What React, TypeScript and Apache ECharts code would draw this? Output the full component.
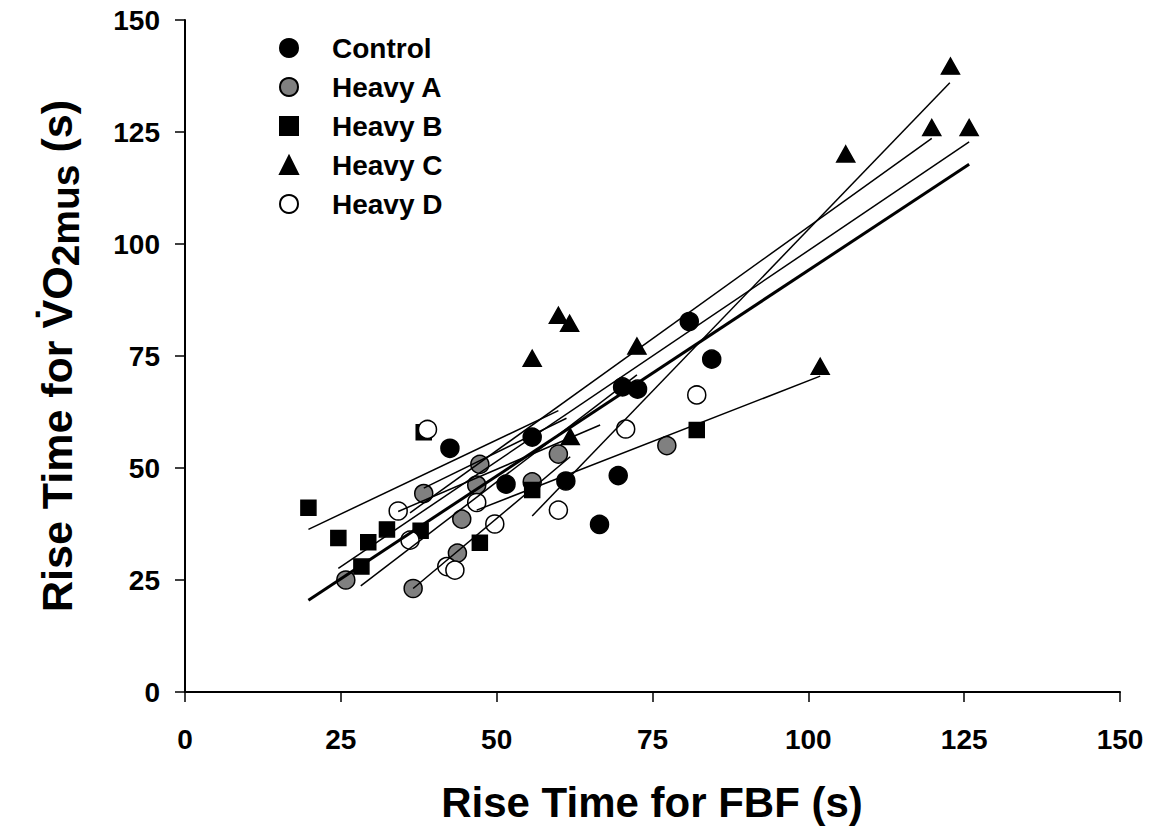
import React, { useEffect, useRef } from "react";
import * as echarts from "echarts";

// ---- data ----
const controlX = [42.5, 51.5, 55.7, 61.1, 66.5, 69.5, 70.2, 72.6, 80.9, 84.5];
const controlY = [54.4, 46.4, 56.9, 47.1, 37.4, 48.3, 68.1, 67.6, 82.7, 74.3];

const heavyAX = [25.8, 36.6, 38.3, 43.7, 44.4, 46.8, 47.3, 55.7, 59.9, 77.3];
const heavyAY = [25.0, 23.1, 44.3, 31.0, 38.6, 46.2, 50.8, 46.9, 53.1, 55.0];

const heavyBX = [19.8, 24.6, 28.3, 29.4, 32.4, 37.8, 38.3, 47.3, 55.7, 82.1];
const heavyBY = [41.1, 34.4, 28.0, 33.4, 36.3, 36.0, 58.0, 33.3, 45.1, 58.5];

const heavyCX = [55.7, 59.9, 61.7, 61.8, 72.5, 101.9, 106.0, 119.8, 122.8, 125.8];
const heavyCY = [74.5, 84.1, 82.3, 57.0, 77.2, 72.7, 120.1, 126.0, 139.7, 126.0];

const heavyDX = [34.2, 36.1, 38.9, 42.0, 43.3, 46.8, 49.7, 59.9, 70.7, 82.1];
const heavyDY = [40.4, 33.9, 58.6, 28.0, 27.2, 42.3, 37.5, 40.6, 58.7, 66.3];

// individual regression lines (start x/y, end x/y)
const fitX1 = [19.8, 24.6, 28.2, 34.2, 36.1, 36.6, 46.8, 55.7, 38.3];
const fitY1 = [36.3, 27.6, 23.7, 40.3, 40.0, 23.1, 40.6, 39.3, 45.5];
const fitX2 = [59.9, 125.8, 72.5, 66.6, 119.8, 61.8, 101.9, 122.7, 61.2];
const fitY2 = [62.8, 122.8, 70.8, 59.6, 123.6, 52.5, 70.5, 136.0, 61.1];

// overall regression line
const overallX = [19.8, 125.8];
const overallY = [20.5, 117.8];

const xTicks = [0, 25, 50, 75, 100, 125, 150];
const yTicks = [0, 25, 50, 75, 100, 125, 150];

const FONT = "'Liberation Sans', Arial, sans-serif";

const zip = (xs: number[], ys: number[]) => xs.map((x, i) => [x, ys[i]]);

export default function App() {
  const ref = useRef<HTMLDivElement>(null);
  useEffect(() => {
    if (!ref.current) return;
    const chart = echarts.init(ref.current, null, { renderer: "svg" });
    const border = { borderColor: "#000", borderWidth: 1.5, opacity: 1 };
    const scatterBase = { type: "scatter", z: 3 };
    const fitSeries = fitX1.map((x1, i) => ({
      type: "line",
      data: [
        [x1, fitY1[i]],
        [fitX2[i], fitY2[i]],
      ],
      showSymbol: false,
      symbol: "none",
      silent: true,
      z: 4,
      lineStyle: { color: "#000", width: 1.5 },
    }));
    const option = {
      animation: false,
      backgroundColor: "#fff",
      grid: { left: 185, right: 33, top: 20, bottom: 139, containLabel: false },
      xAxis: {
        type: "value",
        min: xTicks[0],
        max: xTicks[xTicks.length - 1],
        interval: 25,
        axisLine: { onZero: false, lineStyle: { color: "#000", width: 2 } },
        axisTick: { show: true, length: 10, lineStyle: { color: "#000", width: 1.5 } },
        axisLabel: { margin: 33, color: "#000", fontSize: 28, fontWeight: "bold", fontFamily: FONT },
        splitLine: { show: false },
      },
      yAxis: {
        type: "value",
        min: yTicks[0],
        max: yTicks[yTicks.length - 1],
        interval: 25,
        axisLine: { show: true, onZero: false, lineStyle: { color: "#000", width: 2 } },
        axisTick: { show: true, length: 10, lineStyle: { color: "#000", width: 1.5 } },
        axisLabel: { margin: 25, color: "#000", fontSize: 28, fontWeight: "bold", fontFamily: FONT },
        splitLine: { show: false },
      },
      legend: {
        orient: "vertical",
        left: 274,
        top: 29,
        itemGap: 11,
        itemWidth: 18,
        itemHeight: 18,
        data: ["Control", "Heavy A", "Heavy B", "Heavy C", "Heavy D"],
        textStyle: {
          color: "#000",
          fontSize: 28,
          fontWeight: "bold",
          fontFamily: FONT,
          padding: [0, 0, 0, 29],
          lineHeight: 27,
        },
        selectedMode: false,
      },
      graphic: [
        {
          type: "text",
          x: 652,
          y: 802,
          style: {
            text: "Rise Time for FBF (s)",
            x: 0,
            y: 0,
            align: "center",
            verticalAlign: "middle",
            fill: "#000",
            font: `bold 42px ${FONT}`,
          },
        },
        {
          type: "text",
          x: 57,
          y: 356,
          rotation: Math.PI / 2,
          style: {
            text: "Rise Time for V\u0307O{s|2mus} (s)",
            x: 0,
            y: 0,
            align: "center",
            verticalAlign: "middle",
            fill: "#000",
            font: `bold 43px ${FONT}`,
            rich: {
              s: { font: `bold 39px ${FONT}`, fill: "#000", padding: [17, 0, 0, 0] },
            },
          },
        },
      ],
      series: [
        { ...scatterBase, name: "Control", symbol: "circle", symbolSize: 18, data: zip(controlX, controlY), itemStyle: { color: "#000", ...border } },
        { ...scatterBase, name: "Heavy A", symbol: "circle", symbolSize: 18, data: zip(heavyAX, heavyAY), itemStyle: { color: "#808080", ...border } },
        { ...scatterBase, name: "Heavy B", symbol: "rect", symbolSize: 15, data: zip(heavyBX, heavyBY), itemStyle: { color: "#000", ...border } },
        { ...scatterBase, name: "Heavy C", symbol: "triangle", symbolSize: [18, 16], data: zip(heavyCX, heavyCY), itemStyle: { color: "#000", ...border } },
        { ...scatterBase, name: "Heavy D", symbol: "circle", symbolSize: 18, data: zip(heavyDX, heavyDY), itemStyle: { color: "#fff", ...border } },
        ...fitSeries,
        {
          type: "line",
          data: zip(overallX, overallY),
          showSymbol: false,
          symbol: "none",
          silent: true,
          z: 5,
          lineStyle: { color: "#000", width: 3 },
        },
      ],
    };
    chart.setOption(option as any);
    return () => chart.dispose();
  }, []);
  return (
    <div
      ref={ref}
      style={{ position: "fixed", left: 0, top: 0, width: 1153, height: 831, background: "#fff" }}
    />
  );
}
